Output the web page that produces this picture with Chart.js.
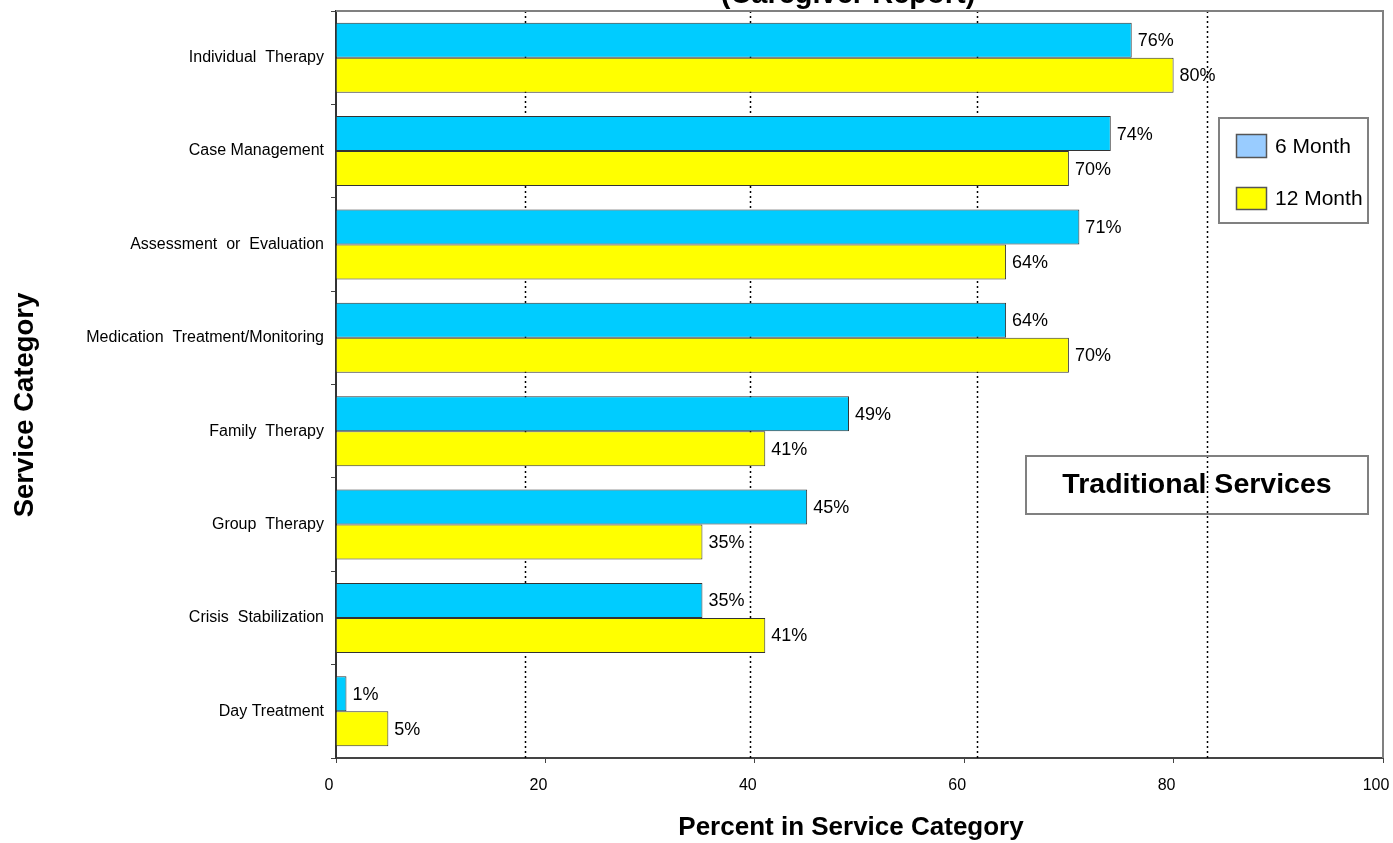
<!DOCTYPE html>
<html><head><meta charset="utf-8">
<script src="https://cdn.jsdelivr.net/npm/chart.js@4.4.1/dist/chart.umd.min.js"></script>
<style>html,body{margin:0;padding:0;background:#fff;overflow:hidden}</style>
</head><body>
<canvas id="c" width="1393" height="843"></canvas>
<script>
const categories = ['Individual  Therapy','Case Management','Assessment  or  Evaluation','Medication  Treatment/Monitoring','Family  Therapy','Group  Therapy','Crisis  Stabilization','Day Treatment'];
const sixMonth = [76,74,71,64,49,45,35,1];
const twelveMonth = [80,70,64,70,41,35,41,5];
const xTickValues = [0,20,40,60,80,100];
const dottedGridValues = [18.05,39.5,61.2,83.2];
const seriesNames = ['6 Month','12 Month'];
const chartTitle = '(Caregiver Report)';
const xTitle = 'Percent in Service Category';
const yTitle = 'Service Category';
const boxLabel = 'Traditional Services';

const FONT = '"Liberation Sans", Arial, Helvetica, sans-serif';
const barColors = ['#00CCFF','#FFFF00'];
const legendSwatchColors = ['#99CCFF','#FFFF00'];

const decor = {
  id:'decor',
  beforeDatasetsDraw(chart){
    const {ctx, chartArea:a, scales:{x}} = chart;
    ctx.save();
    ctx.strokeStyle='#000'; ctx.lineWidth=1.5; ctx.setLineDash([2,3]);
    dottedGridValues.forEach(v=>{
      const px=Math.round(x.getPixelForValue(v))+0.5;
      ctx.beginPath(); ctx.moveTo(px,a.top); ctx.lineTo(px,a.bottom); ctx.stroke();
    });
    ctx.restore();
  },
  afterDatasetsDraw(chart){
    const {ctx} = chart;
    ctx.save();
    ctx.font='18px '+FONT; ctx.fillStyle='#000'; ctx.textBaseline='middle'; ctx.textAlign='left';
    chart.data.datasets.forEach((ds,i)=>{
      chart.getDatasetMeta(i).data.forEach((el,j)=>{
        ctx.fillText(ds.data[j]+'%', el.x+6, el.y+1);
      });
    });
    ctx.restore();
  },
  afterDraw(chart){
    const {ctx, chartArea:a} = chart;
    ctx.save();
    ctx.strokeStyle='#808080'; ctx.lineWidth=2;
    ctx.beginPath(); ctx.moveTo(a.left,a.top); ctx.lineTo(a.right,a.top); ctx.lineTo(a.right,a.bottom); ctx.stroke();
    ctx.fillStyle='#000'; ctx.textAlign='center'; ctx.textBaseline='alphabetic';
    ctx.font='bold 29px '+FONT;
    ctx.fillText(chartTitle, 848, 3);
    ctx.textBaseline='middle';
    ctx.font='bold 26px '+FONT;
    ctx.fillText(xTitle, 851, 828);
    ctx.font='bold 27.5px '+FONT;
    ctx.save(); ctx.translate(25,405); ctx.rotate(-Math.PI/2); ctx.fillText(yTitle,0,0); ctx.restore();
    ctx.strokeStyle='#808080'; ctx.lineWidth=2;
    ctx.strokeRect(1219,118,149,105);
    const sw=[[1236,134,30,23],[1236,187,30,22]];
    const ty=[147,199];
    chart.data.datasets.forEach((ds,i)=>{
      ctx.fillStyle=legendSwatchColors[i]; ctx.fillRect(...sw[i]);
      ctx.strokeStyle='#555'; ctx.lineWidth=1.5; ctx.strokeRect(sw[i][0]+0.5,sw[i][1]+0.5,sw[i][2],sw[i][3]);
      ctx.fillStyle='#000'; ctx.font='21px '+FONT; ctx.textAlign='left'; ctx.textBaseline='middle';
      ctx.fillText(ds.label, 1275, ty[i]);
    });
    ctx.strokeStyle='#808080'; ctx.lineWidth=2;
    ctx.strokeRect(1026,456,342,58);
    ctx.fillStyle='#000'; ctx.font='bold 28.5px '+FONT; ctx.textAlign='center'; ctx.textBaseline='middle';
    ctx.fillText(boxLabel, 1197, 485);
    ctx.restore();
  }
};

new Chart(document.getElementById('c'), {
  type:'bar',
  data:{
    labels:categories,
    datasets:[
      {label:seriesNames[0], data:sixMonth, backgroundColor:barColors[0], borderColor:'#333', borderWidth:1},
      {label:seriesNames[1], data:twelveMonth, backgroundColor:barColors[1], borderColor:'#333', borderWidth:1}
    ]
  },
  options:{
    indexAxis:'y',
    responsive:false,
    animation:false,
    devicePixelRatio:1,
    categoryPercentage:0.75,
    barPercentage:1.0,
    layout:{autoPadding:false, padding:{left:0,top:11,right:10,bottom:0}},
    plugins:{legend:{display:false}, title:{display:false}, tooltip:{enabled:false}},
    scales:{
      x:{
        min:0, max:100,
        afterBuildTicks(s){ s.ticks = xTickValues.map(v=>({value:v})); },
        afterFit(s){ s.height = 85; s.paddingLeft = 0; s.paddingRight = 0; },
        ticks:{font:{size:16,family:FONT}, color:'#000', padding:13, maxRotation:0, labelOffset:-7},
        grid:{drawOnChartArea:false, drawTicks:true, tickLength:5, color:'#444'},
        border:{display:true, color:'#444', width:2}
      },
      y:{
        afterFit(s){ s.width = 336; s.paddingTop = 0; s.paddingBottom = 0; },
        ticks:{font:{size:16,family:FONT}, color:'#000', padding:7, autoSkip:false},
        grid:{drawOnChartArea:false, drawTicks:true, tickLength:5, color:'#444', offset:true},
        border:{display:true, color:'#333', width:2}
      }
    }
  },
  plugins:[decor]
});
</script>
</body></html>
